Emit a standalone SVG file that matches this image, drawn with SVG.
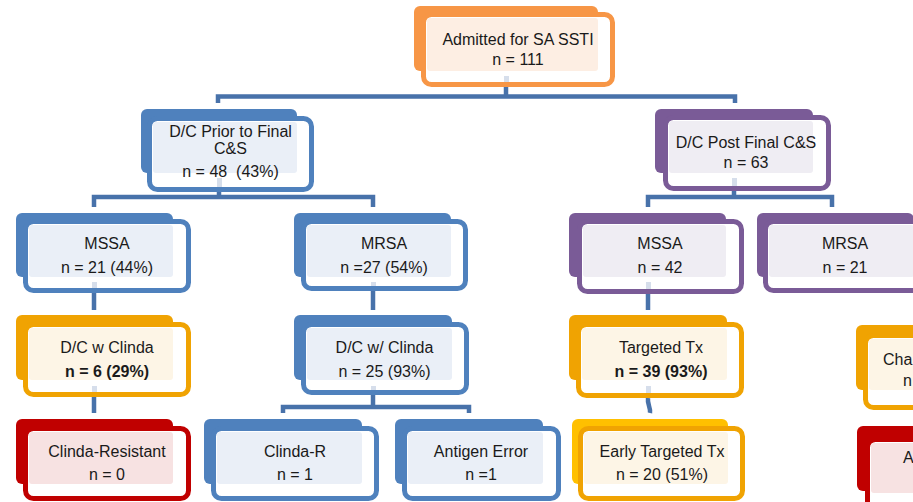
<svg xmlns="http://www.w3.org/2000/svg" width="913" height="502" viewBox="0 0 913 502">
<style>
.back{stroke:none}
.front{fill:#fff;stroke-width:5}
.tint{stroke:none}
.strip{fill:#D6DEEB;stroke:none}
.orange .back{fill:#F79646}.orange .front{stroke:#F79646}.orange .tint{fill:#FDEEE3}
.blue .back{fill:#4F81BD}.blue .front{stroke:#4F81BD}.blue .tint{fill:#EAEFF7}
.purple .back{fill:#7A5B97}.purple .front{stroke:#7A5B97}.purple .tint{fill:#EFEDF3}
.gold .back{fill:#F0A302}.gold .front{stroke:#F0A302}.gold .tint{fill:#FDF5E6}
.yellow .back{fill:#FFC000}.yellow .front{stroke:#F0A302}.yellow .tint{fill:#FDF5E6}
.red .back{fill:#C00000}.red .front{stroke:#C00000}.red .tint{fill:#F7E2E2}
.t{font-family:"Liberation Sans",Arial,sans-serif;font-size:16px;fill:#1a1a1a;text-anchor:middle}
.s{text-anchor:start}
.b{font-weight:bold}
.c{fill:none;stroke:#4872AA;stroke-width:4.5}
</style>
<g id="connectors">
<path class="c" d="M506,87 V96.5 M218,103 V96.5 H735 V103"/>
<path class="c" d="M219,192 V197 M94,207 V197 H373 V207"/>
<path class="c" d="M734,191 V197 M648,207 V197 H832 V207"/>
<path class="c" d="M94,293 V310 M373,291 V310 M648,294 V310"/>
<path class="c" d="M94,397 V413 M373,395 V407 M283,413 V407 H469 V413"/>
<path class="c" d="M648,398 C647,404 651,408 650,413"/>
</g>
<g id="n-admitted" class="orange">
<rect class="back" x="414" y="6" width="184" height="65" rx="6"/>
<rect class="front" x="423.5" y="14.5" width="189" height="70" rx="8"/>
<rect class="tint" x="427" y="18" width="171" height="53" rx="3"/>
<rect class="strip" x="504" y="76" width="5" height="6"/>
<text class="t" x="518" y="45">Admitted for SA SSTI</text>
<text class="t" x="518" y="65">n = 111</text>
</g>
<g id="n-prior" class="blue">
<rect class="back" x="141" y="109" width="156" height="64" rx="6"/>
<rect class="front" x="149.5" y="118.5" width="162" height="71" rx="8"/>
<rect class="tint" x="153" y="122" width="144" height="51" rx="3"/>
<rect class="strip" x="217" y="178" width="5" height="9"/>
<text class="t" x="230.5" y="137">D/C Prior to Final</text>
<text class="t" x="230.5" y="154">C&amp;S</text>
<text class="t" x="230.5" y="177" xml:space="preserve">n = 48  (43%)</text>
</g>
<g id="n-post" class="purple">
<rect class="back" x="655" y="109" width="158" height="64" rx="6"/>
<rect class="front" x="665.5" y="117.5" width="163" height="71" rx="8"/>
<rect class="tint" x="669" y="121" width="144" height="52" rx="3"/>
<rect class="strip" x="732" y="178" width="5" height="8"/>
<text class="t" x="746" y="148">D/C Post Final C&amp;S</text>
<text class="t" x="746" y="168">n = 63</text>
</g>
<g id="n-mssa-l" class="blue">
<rect class="back" x="16" y="213" width="157" height="64" rx="6"/>
<rect class="front" x="25.5" y="221.5" width="163" height="69" rx="8"/>
<rect class="tint" x="29" y="225" width="144" height="52" rx="3"/>
<rect class="strip" x="92" y="282" width="5" height="6"/>
<text class="t" x="107" y="249">MSSA</text>
<text class="t" x="107" y="273">n = 21 (44%)</text>
</g>
<g id="n-mrsa-l" class="blue">
<rect class="back" x="294" y="213" width="157" height="64" rx="6"/>
<rect class="front" x="303.5" y="221.5" width="162" height="67" rx="8"/>
<rect class="tint" x="307" y="225" width="144" height="52" rx="3"/>
<rect class="strip" x="371" y="282" width="5" height="4"/>
<text class="t" x="384" y="249">MRSA</text>
<text class="t" x="384" y="273">n =27 (54%)</text>
</g>
<g id="n-mssa-r" class="purple">
<rect class="back" x="569" y="213" width="157" height="64" rx="6"/>
<rect class="front" x="579.5" y="221.5" width="162" height="70" rx="8"/>
<rect class="tint" x="583" y="225" width="143" height="52" rx="3"/>
<rect class="strip" x="646" y="282" width="5" height="7"/>
<text class="t" x="660" y="249">MSSA</text>
<text class="t" x="660" y="273">n = 42</text>
</g>
<g id="n-mrsa-r" class="purple">
<rect class="back" x="757" y="213" width="157" height="64" rx="6"/>
<rect class="front" x="765.5" y="221.5" width="163" height="69" rx="8"/>
<rect class="tint" x="769" y="225" width="145" height="52" rx="3"/>
<text class="t" x="845" y="249">MRSA</text>
<text class="t" x="845" y="273">n = 21</text>
</g>
<g id="n-dc-clinda" class="gold">
<rect class="back" x="16" y="315" width="157" height="65" rx="6"/>
<rect class="front" x="25.5" y="324.5" width="163" height="70" rx="8"/>
<rect class="tint" x="29" y="328" width="144" height="52" rx="3"/>
<rect class="strip" x="92" y="386" width="5" height="6"/>
<text class="t" x="107" y="353">D/C w Clinda</text>
<text class="t b" x="107" y="377">n = 6 (29%)</text>
</g>
<g id="n-dc-w-clinda" class="blue">
<rect class="back" x="294" y="315" width="158" height="65" rx="6"/>
<rect class="front" x="303.5" y="324.5" width="163" height="68" rx="8"/>
<rect class="tint" x="307" y="328" width="145" height="52" rx="3"/>
<rect class="strip" x="371" y="386" width="5" height="4"/>
<text class="t" x="384.5" y="353">D/C w/ Clinda</text>
<text class="t" x="384.5" y="377">n = 25 (93%)</text>
</g>
<g id="n-targeted" class="gold">
<rect class="back" x="569" y="315" width="158" height="65" rx="6"/>
<rect class="front" x="578.5" y="324.5" width="163" height="71" rx="8"/>
<rect class="tint" x="582" y="328" width="145" height="52" rx="3"/>
<rect class="strip" x="646" y="386" width="5" height="7"/>
<text class="t" x="661" y="353">Targeted Tx</text>
<text class="t b" x="661" y="377">n = 39 (93%)</text>
</g>
<g id="n-cha" class="gold">
<rect class="back" x="856" y="325" width="157" height="65" rx="6"/>
<rect class="front" x="865.5" y="335.5" width="163" height="72" rx="8"/>
<rect class="tint" x="869" y="339" width="144" height="51" rx="3"/>
<text class="t s" x="883" y="365">Cha</text>
<text class="t s" x="903" y="386">n</text>
</g>
<g id="n-clinda-resistant" class="red">
<rect class="back" x="16" y="419" width="157" height="65" rx="6"/>
<rect class="front" x="25.5" y="428.5" width="163" height="70" rx="8"/>
<rect class="tint" x="29" y="432" width="144" height="52" rx="3"/>
<text class="t" x="107" y="457">Clinda-Resistant</text>
<text class="t" x="107" y="480">n = 0</text>
</g>
<g id="n-clinda-r" class="blue">
<rect class="back" x="204" y="419" width="158" height="65" rx="6"/>
<rect class="front" x="213.5" y="428.5" width="163" height="70" rx="8"/>
<rect class="tint" x="217" y="432" width="145" height="52" rx="3"/>
<text class="t" x="295" y="457">Clinda-R</text>
<text class="t" x="295" y="480">n = 1</text>
</g>
<g id="n-antigen" class="blue">
<rect class="back" x="395" y="419" width="148" height="65" rx="6"/>
<rect class="front" x="404.5" y="428.5" width="154" height="70" rx="8"/>
<rect class="tint" x="408" y="432" width="135" height="52" rx="3"/>
<text class="t" x="481" y="457">Antigen Error</text>
<text class="t" x="481" y="480">n =1</text>
</g>
<g id="n-early" class="yellow">
<rect class="back" x="572" y="419" width="156" height="65" rx="6"/>
<rect class="front" x="580.5" y="428.5" width="162" height="70" rx="8"/>
<rect class="tint" x="584" y="432" width="144" height="52" rx="3"/>
<text class="t" x="662" y="457">Early Targeted Tx</text>
<text class="t" x="662" y="480">n = 20 (51%)</text>
</g>
<g id="n-a" class="red">
<rect class="back" x="857" y="426" width="157" height="65" rx="6"/>
<rect class="front" x="867.5" y="439.5" width="163" height="70" rx="8"/>
<rect class="tint" x="871" y="443" width="143" height="50" rx="3"/>
<text class="t s" x="903" y="463">A</text>
</g>
</svg>
